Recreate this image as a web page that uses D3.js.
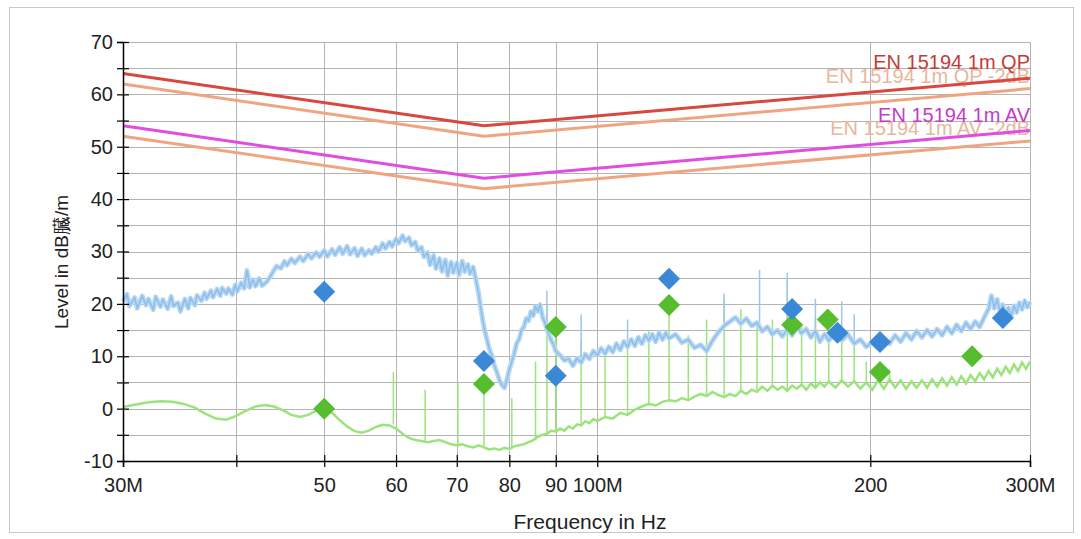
<!DOCTYPE html>
<html>
<head>
<meta charset="utf-8">
<script src="https://cdn.jsdelivr.net/npm/d3@7"></script>
<style>
  body { margin: 0; background: #fff; }
  svg { display: block; font-family: "Liberation Sans", Arial, sans-serif; }
</style>
</head>
<body>
<div id="chart"></div>
<script>
// ---- limit lines (frequency in MHz, level in dB) ----
const limitFreqs = [30, 75, 300];
const limitQP = [64, 54, 63.1];
const limitQP2 = [62, 52, 61.1];
const limitAV = [54, 44, 53.1];
const limitAV2 = [52, 42, 51.1];
const limitNames = ["EN 15194 1m QP", "EN 15194 1m QP -2dB", "EN 15194 1m AV", "EN 15194 1m AV -2dB"];

// ---- axis ticks ----
const yTicks = [-10, -5, 0, 5, 10, 15, 20, 25, 30, 35, 40, 45, 50, 55, 60, 65, 70];
const xTicks = [30, 40, 50, 60, 70, 80, 90, 100, 200, 300];
const xTickLabels = ["30M", "", "50", "60", "70", "80", "90", "100M", "200", "300M"];

// ---- peak (blue) scan ----
const blueTrace = [
  [30,20.5],[30.3,21.8],[30.5,19.6],[30.9,21.2],[31.1,19.2],[31.5,21.5],[31.8,19.8],[32,20.9],[32.4,18.9],[32.6,21.3],
  [33,19.5],[33.2,20.8],[33.6,19.1],[33.9,21.4],[34.1,19.6],[34.5,20.2],[34.7,18.6],[35.1,20.9],[35.4,19.2],[35.6,21.1],
  [36,19.8],[36.2,21.6],[36.6,20.6],[36.9,22.1],[37.1,21],[37.5,22.5],[37.7,21.3],[38.1,22.8],[38.4,21.6],[38.6,23],
  [39,22],[39.2,22.9],[39.6,21.8],[39.9,23.6],[40.1,22.4],[40.5,24],[40.8,23],[41.1,26.4],[41.4,23.2],[41.7,24.6],
  [42,23.4],[42.4,24.8],[42.7,23.5],[43.2,24.2],[43.6,25.2],[44,26.4],[44.3,27.2],[44.8,26.8],[45.2,28.1],[45.5,27.4],
  [46,28.6],[46.4,27.8],[47,29],[47.4,28.2],[48,29.5],[48.4,28.7],[49,29.8],[49.4,29],[50,30.2],[50.4,29.1],
  [51,30.4],[51.4,29.4],[52,30.8],[52.4,29.6],[53,31],[53.4,29.5],[54,30.6],[54.4,29.2],[55,30.5],[55.4,29.3],
  [56,30.2],[56.4,29.6],[57,30.8],[57.4,30],[58,31.5],[58.4,30.6],[59,31.8],[59.4,31],[60,32.4],[60.4,31.6],
  [61,33],[61.4,32],[62,32.6],[62.4,31.2],[63,31.8],[63.4,30.2],[64,30.8],[64.4,29],[65,29.8],[65.4,27.5],
  [66,29.2],[66.4,26.8],[67,28.6],[67.4,26.2],[68,28.4],[68.4,25.4],[69,28],[69.4,26],[70,27.8],[70.4,25.5],
  [71,28.2],[71.4,26.2],[72,27.5],[72.4,25.8],[73,27],[73.5,24.5],[74,22],[74.5,18.5],[75,15.5],[75.5,13.5],
  [76,11.5],[76.5,10.2],[77,8.2],[77.5,7],[78,5.5],[78.5,4.5],[79,4],[79.5,5.5],[80,7.5],[80.5,9],
  [81,10.5],[81.5,12.5],[82,13.2],[82.5,15],[83,15.6],[83.5,17.2],[84,16.8],[84.5,18.5],[85,17.8],[85.5,19.5],
  [86,18.6],[86.5,19.8],[87,17.6],[87.5,16.5],[88,15.2],[88.5,14],[89,13],[89.5,12.2],[90,11],[91,10.2],
  [92,9.2],[93,9.5],[94,8.2],[95,9.6],[96,8.8],[97,10.4],[98,9.5],[99,11],[100,10.2],[101,11.5],
  [102,10.5],[103,11.8],[104,10.8],[105,12.4],[106,11.2],[107,12.8],[108,11.8],[109,13.2],[110,12],[111,13.6],
  [112,12.4],[113,14],[114,13],[115,14.2],[116,12.8],[117,14.5],[118,13.2],[119,14.4],[120,13.4],[122,14.2],
  [124,12.6],[126,13.2],[128,11.6],[130,12.2],[132,11],[134,13],[136,14.6],[138,15.8],[140,16.6],[142,17.4],
  [144,16.2],[146,17.2],[148,15.8],[150,16.4],[152,14.8],[154,15.6],[156,14.2],[158,15],[160,13.8],[162,15.2],
  [164,14],[166,15.6],[168,14.4],[170,15.2],[172,13.6],[174,14.8],[176,12.8],[178,14.2],[180,13],[183,14.6],
  [186,13],[189,14.2],[192,12.4],[195,13.2],[198,11.8],[201,12.6],[204,11.6],[207,13.4],[210,12.4],[213,14],
  [216,12.8],[219,14.4],[222,13.2],[225,14.8],[228,13.6],[231,15],[234,13.8],[237,15.2],[240,14],[243,15.6],
  [246,14.4],[249,16],[252,14.8],[255,16.4],[258,15.2],[261,16.6],[264,15.6],[267,17.4],[270,19],[272,21.6],
  [274,19.2],[276,20.8],[278,18.6],[280,19.8],[282,18],[284,19.2],[286,17.6],[288,19.6],[290,18.4],[292,20.2],
  [294,19],[296,20.6],[298,19.4],[300,20.4]
];
// narrow spikes on the peak scan: [freq, base, top]
const blueSpikes = [
  [41.1,23,26.5],[88,15,22.5],[96,9,18],[108,11.8,17],[138,15.8,22],[151,16,26.5],[162,15,26],[174,14.8,21],[186,13,20.5],[192,12.4,18]
];

// ---- average (green) scan ----
const greenTrace = [
  [30,0.3],[31,0.8],[32,1.2],[33,1.4],[34,1.3],[35,0.9],[36,0.2],[37,-1],[38,-1.9],[39,-2.1],
  [40,-1.4],[41,-0.4],[42,0.4],[43,0.7],[44,0.4],[45,-0.3],[46,-1.2],[47,-1.6],[48,-1.2],[49,-0.4],
  [50,0],[51,-0.8],[52,-2.2],[53,-3.4],[54,-4.3],[55,-4.6],[56,-4.2],[57,-3.5],[58,-3.1],[59,-3.2],
  [60,-3.8],[61,-4.8],[62,-5.6],[63,-6],[64,-6.2],[65,-6.4],[66,-6.2],[67,-6],[68,-6.4],[69,-6.8],
  [70,-7],[71,-6.8],[72,-7.2],[73,-7.4],[74,-7],[75,-7.4],[76,-7.8],[77,-7.6],[78,-7.9],[79,-7.5],
  [80,-7.7],[81,-7.2],[82,-7],[83,-6.8],[84,-6.4],[85,-6],[86,-5.4],[87,-5],[88,-4.8],[89,-4.2],
  [90,-4.4],[91,-3.8],[92,-4.2],[93,-3.4],[94,-3.8],[95,-3],[96,-3.2],[97,-2.4],[98,-2.8],[99,-2],
  [100,-2.4],[102,-1.6],[104,-1.9],[106,-0.8],[108,-1.2],[110,-0.2],[112,0.4],[114,0.9],[116,0.6],[118,1.3],
  [120,1.6],[122,1.4],[124,2],[126,1.6],[128,2.3],[130,2.8],[132,2.4],[134,3.2],[136,2.6],[138,2.2],
  [140,2.8],[142,2.4],[144,3.4],[146,2.8],[148,3.6],[150,3.2],[152,4.2],[154,3.4],[156,4.4],[158,3.6],
  [160,4.2],[162,3.4],[164,4.4],[166,3.8],[168,4.6],[170,3.6],[172,4.8],[174,4],[176,5],[178,4.2],
  [180,5.2],[183,4],[186,5.4],[189,4.2],[192,5.2],[195,3.8],[198,5],[201,3.6],[204,5.4],[207,3.8],
  [210,5.6],[213,4],[216,5.4],[219,3.8],[222,5.2],[225,4],[228,5.4],[231,4],[234,5.6],[237,4.2],
  [240,5.8],[243,4.4],[246,6],[249,4.6],[252,6.2],[255,4.8],[258,6.4],[261,5.2],[264,6.8],[267,5.6],
  [270,7.2],[273,6],[276,7.6],[279,6.4],[282,8],[285,6.8],[288,8.4],[291,7.2],[294,8.8],[297,7.6],[300,9]
];
const greenSpikes = [
  [59.6,-3,7],[64.6,-6.2,3.6],[70.2,-7,5],[75,-7.4,4.7],[80.5,-7.6,2],[85.5,-6,9],[88,-4.8,20],[90,-4.4,15.6],
  [96,-3.2,13],[102,-1.6,11],[108,-1.2,13],[114,0.9,15],[120,1.6,19.8],[126,1.6,14],[132,2.4,17],[138,2.2,21],
  [144,3.4,19],[150,3.2,16],[156,4.4,17],[162,3.4,25],[168,4.6,16],[174,4,17.5],[180,5.2,17],[186,5.4,14],
  [192,5.2,12],[198,5,9],[204,5.4,8],[210,5.6,7.5]
];

// ---- final measurement points ----
const qpFreqs = [50, 75, 90, 120, 164, 184, 205, 280];
const qpLevels = [22.3, 9.1, 6.3, 24.8, 19.0, 14.5, 12.7, 17.3];
const avFreqs = [50, 75, 90, 120, 164, 179.5, 205, 259];
const avLevels = [0, 4.7, 15.6, 19.8, 16, 17, 7, 10];

// ---- layout ----
const width = 1081, height = 539;
const margin = { top: 42, right: 51, bottom: 78, left: 123 };

const svg = d3.select("#chart").append("svg")
  .attr("width", width)
  .attr("height", height);

// outer frame
svg.append("rect")
  .attr("x", 9.5).attr("y", 7.5)
  .attr("width", 1064).attr("height", 525)
  .attr("fill", "#fff")
  .attr("stroke", "#c8c8c8");

const x = d3.scaleLog().domain([30, 300]).range([margin.left, width - margin.right]);
const y = d3.scaleLinear().domain([-10, 70]).range([height - margin.bottom, margin.top]);

// grid
const grid = svg.append("g").attr("stroke", "#b4b4b4").attr("stroke-width", 1);
grid.selectAll(".hg").data(yTicks.slice(1)).enter().append("line")
  .attr("x1", x(30)).attr("x2", x(300))
  .attr("y1", d => Math.round(y(d)) + 0.5).attr("y2", d => Math.round(y(d)) + 0.5);
grid.selectAll(".vg").data(xTicks.slice(1)).enter().append("line")
  .attr("y1", y(-10)).attr("y2", y(70))
  .attr("x1", d => Math.round(x(d)) + 0.5).attr("x2", d => Math.round(x(d)) + 0.5);

// limit labels (right aligned at plot edge, drawn under the lines like the reference)
const labelData = [
  { t: limitNames[1], v: limitQP2[2], c: "#e6b89e", dy: -6 },
  { t: limitNames[0], v: limitQP[2], c: "#c43c36", dy: -9 },
  { t: limitNames[3], v: limitAV2[2], c: "#e6b89e", dy: -6 },
  { t: limitNames[2], v: limitAV[2], c: "#c23cc8", dy: -9 }
];
svg.selectAll(".lim-label").data(labelData).enter().append("text")
  .attr("x", x(300))
  .attr("y", d => y(d.v) + d.dy)
  .attr("text-anchor", "end")
  .attr("fill", d => d.c)
  .style("font-size", "20px")
  .text(d => d.t);

// limit lines
const limitLine = d3.line().x((d, i) => x(limitFreqs[i])).y(d => y(d));
const limits = [
  { v: limitQP2, c: "#f0a582", w: 3 },
  { v: limitAV2, c: "#f0a582", w: 3 },
  { v: limitQP, c: "#d9473f", w: 3 },
  { v: limitAV, c: "#e04de0", w: 3 }
];
limits.forEach(l => {
  svg.append("path").datum(l.v)
    .attr("d", limitLine)
    .attr("fill", "none")
    .attr("stroke", l.c)
    .attr("stroke-width", l.w)
    .attr("stroke-linejoin", "round");
});

// traces
const traceLine = d3.line().x(d => x(d[0])).y(d => y(d[1]));

svg.append("g").selectAll("line").data(greenSpikes).enter().append("line")
  .attr("x1", d => x(d[0])).attr("x2", d => x(d[0]))
  .attr("y1", d => y(d[1])).attr("y2", d => y(d[2]))
  .attr("stroke", "#9be47c").attr("stroke-width", 1.5);

svg.append("path").datum(greenTrace)
  .attr("d", traceLine)
  .attr("fill", "none")
  .attr("stroke", "#9be47c")
  .attr("stroke-width", 2.5);

svg.append("g").selectAll("line").data(blueSpikes).enter().append("line")
  .attr("x1", d => x(d[0])).attr("x2", d => x(d[0]))
  .attr("y1", d => y(d[1])).attr("y2", d => y(d[2]))
  .attr("stroke", "#9cc7ee").attr("stroke-width", 1.5);

// blue scan: soft band underneath and the thin noisy line on top
svg.append("path").datum(blueTrace)
  .attr("d", traceLine)
  .attr("fill", "none")
  .attr("stroke", "#b9d8f4")
  .attr("stroke-width", 5)
  .attr("stroke-linejoin", "round");
svg.append("path").datum(blueTrace)
  .attr("d", traceLine)
  .attr("fill", "none")
  .attr("stroke", "#8ebeea")
  .attr("stroke-width", 1.6);

// diamond markers
const diamond = {
  draw(ctx, size) {
    const r = Math.sqrt(size) / 2;
    ctx.moveTo(0, -r); ctx.lineTo(r, 0); ctx.lineTo(0, r); ctx.lineTo(-r, 0); ctx.closePath();
  }
};
const sym = d3.symbol().type(diamond).size(484);

svg.append("g").selectAll("path").data(avFreqs).enter().append("path")
  .attr("d", sym)
  .attr("transform", (d, i) => `translate(${x(d)},${y(avLevels[i])})`)
  .attr("fill", "#55bd2e");

svg.append("g").selectAll("path").data(qpFreqs).enter().append("path")
  .attr("d", sym)
  .attr("transform", (d, i) => `translate(${x(d)},${y(qpLevels[i])})`)
  .attr("fill", "#3a88d6");

// axes (ticks cross the axis line)
const yAxis = svg.append("g")
  .attr("transform", `translate(${x(30)},0)`)
  .call(d3.axisLeft(y).tickValues(yTicks).tickSize(6).tickPadding(4)
    .tickFormat(d => d % 10 === 0 ? d : ""));
yAxis.selectAll(".tick line").attr("x1", 6);
const xAxis = svg.append("g")
  .attr("transform", `translate(0,${y(-10)})`)
  .call(d3.axisBottom(x).tickValues(xTicks).tickSize(6).tickPadding(11)
    .tickFormat((d, i) => xTickLabels[i]));
xAxis.selectAll(".tick line").attr("y1", -6);

[xAxis, yAxis].forEach(a => {
  a.select(".domain").attr("stroke", "#000").attr("stroke-width", 1.5);
  a.selectAll(".tick line").attr("stroke", "#000").attr("stroke-width", 1.2);
  a.selectAll("text").attr("fill", "#222").style("font-size", "20px")
    .style("font-family", "'Liberation Sans', Arial, sans-serif");
});

// axis titles
svg.append("text")
  .attr("x", 590)
  .attr("y", 529)
  .attr("text-anchor", "middle")
  .attr("fill", "#222")
  .style("font-size", "21px")
  .text("Frequency in Hz");

svg.append("text")
  .attr("transform", "translate(68,262) rotate(-90)")
  .attr("text-anchor", "middle")
  .attr("fill", "#222")
  .style("font-size", "19px")
  .text("Level in dB臓/m");
</script>
</body>
</html>
